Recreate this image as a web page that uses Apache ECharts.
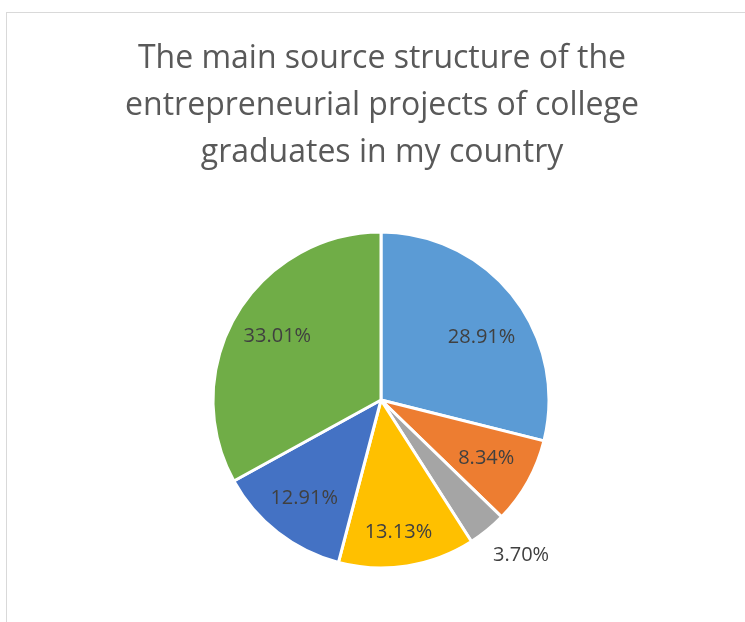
<!DOCTYPE html>
<html>
<head>
<meta charset="utf-8">
<script src="https://cdn.jsdelivr.net/npm/echarts@6/dist/echarts.min.js"></script>
<style>
  html, body { margin: 0; padding: 0; background: #fff; }
  #frame { position: absolute; left: 6px; top: 12px; width: 800px; height: 700px;
           border-left: 1px solid #d9d9d9; border-top: 1px solid #d9d9d9; }
  #chart { position: absolute; left: 0; top: 0; width: 745px; height: 622px; }
</style>
</head>
<body>
<div id="frame"></div>
<div id="chart"></div>
<script>
// ---- data ----
const titleText = "The main source structure of the\nentrepreneurial projects of college\ngraduates in my country";
const categories = ["Source A", "Source B", "Source C", "Source D", "Source E", "Source F"];
const values = [28.91, 8.34, 3.70, 13.13, 12.91, 33.01];
const colors = ["#5B9BD5", "#ED7D31", "#A5A5A5", "#FFC000", "#4472C4", "#70AD47"];

// label fine-tuning (style only)
const labelOffsets = [[2, 14], [-4, -2], [61, 58], [-2, 9], [0, 0], [4, 0]];

const pieData = categories.map((n, i) => ({ name: n, value: values[i], itemStyle: { color: colors[i] } }));
const labelData = categories.map((n, i) => ({
  name: n, value: values[i],
  label: { offset: labelOffsets[i] }
}));

const chart = echarts.init(document.getElementById('chart'), null, { renderer: 'canvas' });
chart.setOption({
  animation: false,
  title: {
    text: titleText,
    left: 377,
    textAlign: 'center',
    top: 30,
    textStyle: {
      fontFamily: 'Open Sans',
      fontWeight: 'normal',
      fontSize: 32,
      lineHeight: 47,
      color: '#595959'
    }
  },
  series: [
    {
      type: 'pie',
      center: [381, 400],
      radius: [0, 168],
      startAngle: 90,
      clockwise: true,
      silent: true,
      label: { show: false },
      labelLine: { show: false },
      itemStyle: { borderColor: '#ffffff', borderWidth: 3 },
      data: pieData
    },
    {
      type: 'pie',
      center: [381, 400],
      radius: [0, 244],
      startAngle: 90,
      clockwise: true,
      silent: true,
      itemStyle: { color: 'rgba(0,0,0,0)' },
      label: {
        show: true,
        position: 'inside',
        formatter: p => p.value.toFixed(2) + '%',
        fontFamily: 'Open Sans',
        fontSize: 20,
        color: '#404040'
      },
      labelLine: { show: false },
      data: labelData
    }
  ]
});
</script>
</body>
</html>
